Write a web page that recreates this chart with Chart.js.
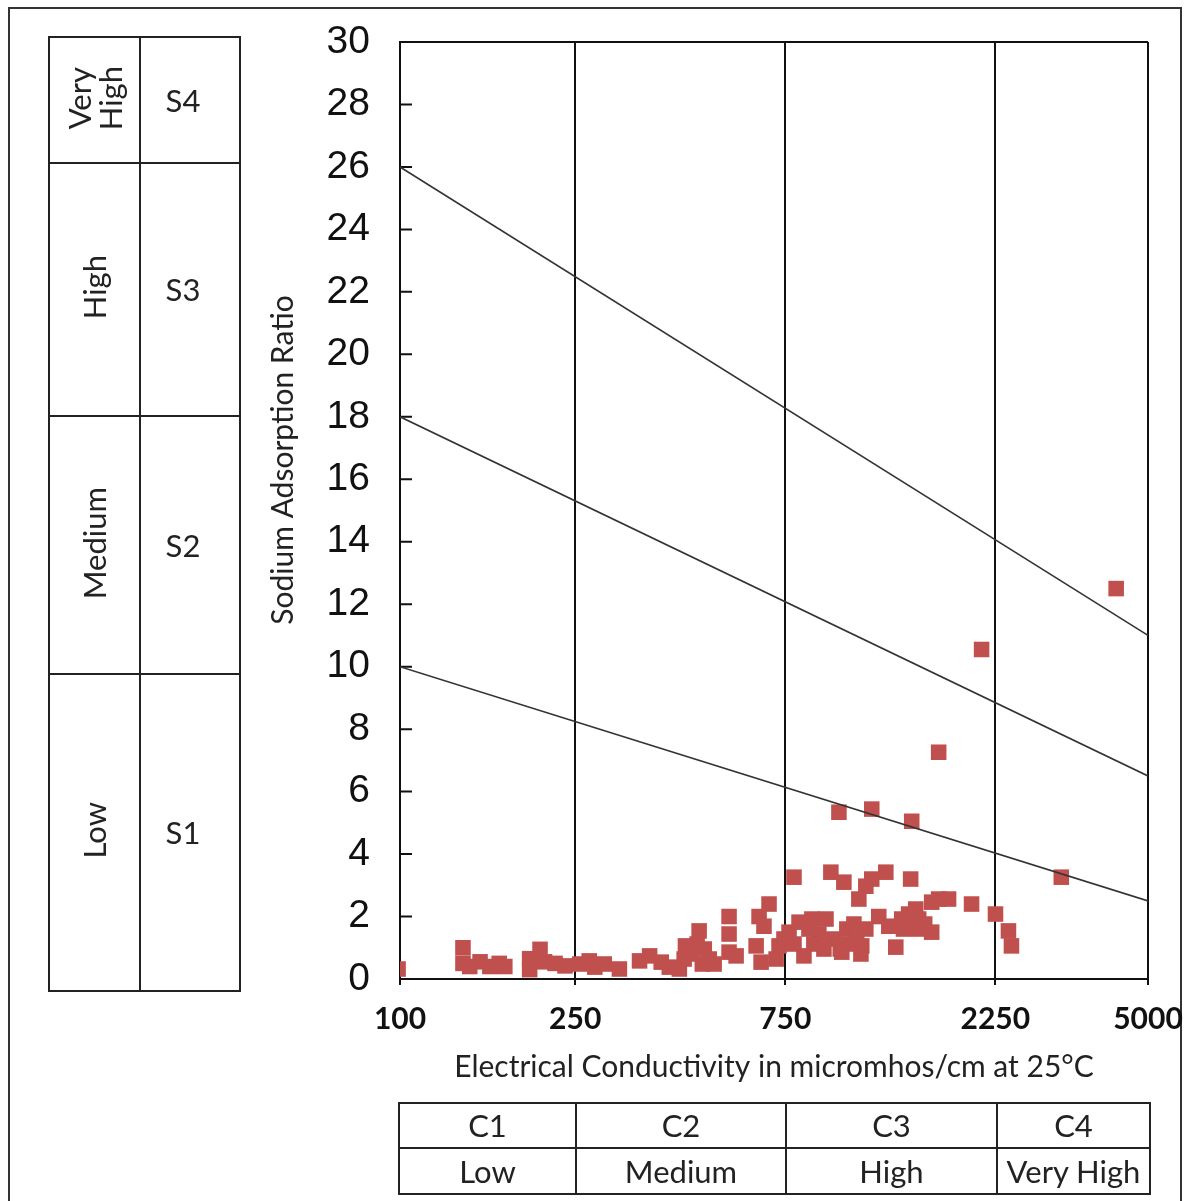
<!DOCTYPE html>
<html>
<head>
<meta charset="utf-8">
<title>USSL salinity diagram</title>
<script src="https://cdn.jsdelivr.net/npm/chart.js@4.4.1/dist/chart.umd.min.js"></script>
<style>
  body { margin: 0; background: #fff; font-family: Lato, "Open Sans", sans-serif; }
  #wrap { position: relative; width: 1189px; height: 1201px; overflow: hidden; background: #fff; }
  #frame { position: absolute; left: 8px; top: 7px; width: 1174px; height: 1230px; border: 2px solid #333; box-sizing: border-box; }
  #chart { position: absolute; left: 0; top: 0; }
  table { position: absolute; border-collapse: collapse; color: #222; font-size: 31px; table-layout: fixed; }
  td { border: 2px solid #222; text-align: center; vertical-align: middle; padding: 0; line-height: 1.0; }
  .rot { display: inline-block; writing-mode: vertical-rl; transform: rotate(180deg); }
  #sodium { left: 48px; top: 36px; width: 191px; height: 954px; }
  #sodium td + td { padding-right: 14px; }
  #salinity { left: 398px; top: 1102px; width: 751px; height: 91px; }
</style>
</head>
<body>
<div id="wrap">
  <div id="frame"></div>
  <canvas id="chart" width="1189" height="1201"></canvas>
  <table id="sodium">
    <colgroup><col style="width:91px"><col style="width:100px"></colgroup>
    <tr style="height:126px"><td><span class="rot">Very<br>High</span></td><td>S4</td></tr>
    <tr style="height:253px"><td><span class="rot">High</span></td><td>S3</td></tr>
    <tr style="height:258px"><td><span class="rot">Medium</span></td><td>S2</td></tr>
    <tr style="height:317px"><td><span class="rot">Low</span></td><td>S1</td></tr>
  </table>
  <table id="salinity">
    <colgroup><col style="width:177px"><col style="width:210px"><col style="width:211px"><col style="width:153px"></colgroup>
    <tr style="height:45px"><td>C1</td><td>C2</td><td>C3</td><td>C4</td></tr>
    <tr style="height:46px"><td>Low</td><td>Medium</td><td>High</td><td>Very High</td></tr>
  </table>
</div>
<script>
// samples: EC (micromhos/cm) and SAR
const ecValues = [
  99, 139, 139, 144, 152, 160, 168, 173, 197, 197,
  208, 213, 225, 237, 256, 269, 277, 291, 315, 350,
  369, 392, 409, 431, 442, 454, 473, 478, 486, 491,
  504, 517, 445, 559, 559, 559, 580, 644, 654, 661,
  671, 689, 715, 726, 745, 765, 785, 806, 827, 849,
  862, 894, 928, 952, 967, 993, 1019, 1035, 1046, 1074,
  1102, 1114, 1119, 1143, 1143, 1179, 1179, 1223, 1269, 1289,
  1337, 1379, 1445, 1453, 1484, 1507, 1613, 1613, 1673, 1762,
  1673, 1987, 2094, 2252, 2410, 2448, 3177, 4233, 785, 871,
  918, 1000, 1090, 1008, 1507, 1555, 1430, 1392
];
const sarValues = [
  0.32, 1.0, 0.5, 0.4, 0.55, 0.4, 0.5, 0.4, 0.3, 0.65,
  0.95, 0.55, 0.5, 0.42, 0.48, 0.58, 0.38, 0.48, 0.32, 0.58,
  0.74, 0.54, 0.38, 0.32, 0.64, 0.8, 1.12, 1.54, 0.48, 0.96,
  0.64, 0.48, 1.06, 2.0, 1.44, 0.86, 0.74, 1.06, 2.0, 0.54,
  1.69, 2.4, 0.64, 1.06, 1.28, 1.5, 3.26, 1.82, 0.74, 1.6,
  1.92, 1.44, 1.92, 3.42, 1.28, 5.34, 3.1, 1.6, 1.12, 1.76,
  2.56, 0.8, 1.06, 1.6, 2.97, 3.2, 5.44, 2.0, 3.42, 1.69,
  1.02, 1.92, 3.2, 5.05, 2.24, 1.92, 1.5, 2.46, 2.56, 2.56,
  7.26, 2.4, 10.55, 2.08, 1.54, 1.06, 3.26, 12.5, 1.12, 1.12,
  0.96, 0.96, 1.28, 0.86, 1.6, 1.76, 2.08, 1.6
];

const xTicks = [100, 250, 750, 2250, 5000];
const yTitle = 'Sodium Adsorption Ratio';

// class boundaries (S1/S2, S2/S3, S3/S4) from EC 100 to 5000
const boundaryEc = [100, 5000];
const boundaryS1S2 = [10, 2.5];
const boundaryS2S3 = [18, 6.5];
const boundaryS3S4 = [26, 11];

const toPoints = (xs, ys) => xs.map((x, i) => ({ x: x, y: ys[i] }));

const boundaryLine = (ys) => ({
  data: toPoints(boundaryEc, ys),
  showLine: true,
  borderColor: '#333',
  borderWidth: 1.6,
  pointRadius: 0,
  fill: false
});

// top edge of the plot, small inward ticks on the SAR axis, SAR title
const frameLines = {
  id: 'frameLines',
  beforeDatasetsDraw(chart) {
    const ctx = chart.ctx;
    const area = chart.chartArea;
    const y = chart.scales.y;
    ctx.save();
    ctx.strokeStyle = '#111';
    ctx.lineWidth = 2;
    ctx.beginPath();
    ctx.moveTo(area.left, area.top);
    ctx.lineTo(area.right, area.top);
    y.ticks.forEach(t => {
      const py = y.getPixelForValue(t.value);
      ctx.moveTo(area.left, py);
      ctx.lineTo(area.left + 12, py);
    });
    ctx.stroke();

    ctx.translate(283, 460);
    ctx.rotate(-Math.PI / 2);
    ctx.font = '30px Lato';
    ctx.fillStyle = '#222';
    ctx.textAlign = 'center';
    ctx.textBaseline = 'middle';
    ctx.fillText(yTitle, 0, 0);
    ctx.restore();
  }
};

new Chart(document.getElementById('chart'), {
  type: 'scatter',
  data: {
    datasets: [
      boundaryLine(boundaryS1S2),
      boundaryLine(boundaryS2S3),
      boundaryLine(boundaryS3S4),
      {
        data: toPoints(ecValues, sarValues),
        pointStyle: 'rect',
        pointRadius: 11,
        backgroundColor: '#c0504d',
        borderWidth: 0
      }
    ]
  },
  options: {
    responsive: false,
    animation: false,
    layout: { padding: { left: 250, top: 42, right: 41, bottom: 112 } },
    plugins: {
      legend: { display: false },
      tooltip: { enabled: false }
    },
    scales: {
      x: {
        type: 'logarithmic',
        min: 100,
        max: 5000,
        afterBuildTicks: scale => {
          scale.ticks = xTicks.map(v => ({ value: v }));
        },
        afterFit: scale => {
          scale.height = 110;
          scale.paddingLeft = 0;
          scale.paddingRight = 0;
        },
        ticks: {
          callback: v => String(v),
          font: { family: 'Lato', size: 30, weight: 'bold' },
          color: '#111',
          padding: 16,
          maxRotation: 0,
          autoSkip: false
        },
        grid: { color: '#111', lineWidth: 2, drawTicks: true, tickLength: 6, tickColor: '#111' },
        border: { color: '#111', width: 2 },
        title: {
          display: true,
          text: 'Electrical Conductivity in micromhos/cm at 25°C',
          font: { family: 'Lato', size: 30 },
          color: '#222',
          padding: { top: 6, bottom: 4 }
        }
      },
      y: {
        min: 0,
        max: 30,
        afterFit: scale => {
          scale.width = 150;
          scale.paddingTop = 0;
          scale.paddingBottom = 0;
        },
        ticks: {
          stepSize: 2,
          font: { family: 'Liberation Sans', size: 39 },
          color: '#111',
          padding: 30
        },
        grid: { display: false, drawTicks: false },
        border: { display: true, color: '#111', width: 2 },
        title: { display: false }
      }
    }
  },
  plugins: [frameLines]
});
</script>
</body>
</html>
